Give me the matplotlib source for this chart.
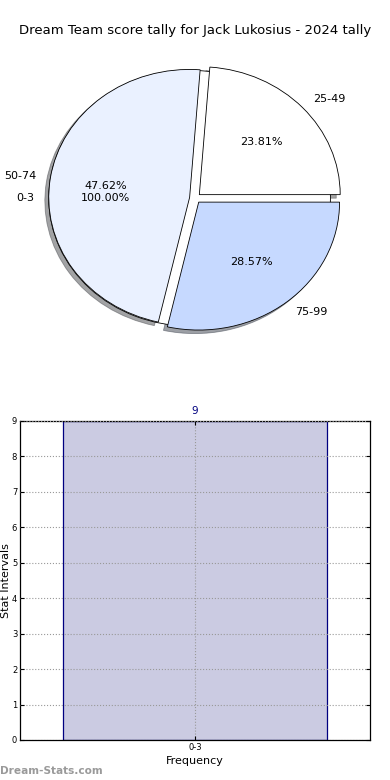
import matplotlib
matplotlib.use("Agg")
import matplotlib.pyplot as plt

# ── data ──────────────────────────────────────────────────────────────────────
title = "Dream Team score tally for Jack Lukosius - 2024 tally"
pie_labels = ["25-49", "50-74", "75-99"]
pie_counts = [5, 10, 6]
pie_colors = ["#ffffff", "#eaf1ff", "#c6d9ff"]
bg_labels = ["0-3"]
bg_counts = [9]

bar_labels = ["0-3"]
bar_values = [9]

fig = plt.figure(figsize=(3.9, 7.8), dpi=100)

# ── pie ───────────────────────────────────────────────────────────────────────
ax1 = fig.add_axes([0.049, 0.541, 0.903, 0.410])
txt = dict(fontsize=8)
ax1.pie(bg_counts, labels=bg_labels, colors=["white"], explode=[0.04],
        autopct="%1.2f%%", shadow=False, textprops=txt,
        wedgeprops=dict(edgecolor="black", linewidth=0.6))
ax1.pie(pie_counts, labels=pie_labels, colors=pie_colors,
        explode=[0.04] * len(pie_counts), autopct="%1.2f%%",
        shadow=True, textprops=txt,
        wedgeprops=dict(edgecolor="black", linewidth=0.6))
ax1.set_aspect("auto")
ax1.set_xlim(-1.25, 1.25)
ax1.set_ylim(-1.25, 1.25)
fig.text(0.5, 0.961, title, ha="center", va="center", fontsize=9.5)

# ── bar ───────────────────────────────────────────────────────────────────────
ax2 = fig.add_axes([0.0513, 0.0513, 0.897, 0.409])
x = list(range(len(bar_labels)))
ax2.bar(x, bar_values, width=0.8, color="#cbcbe2", edgecolor="navy",
        linewidth=0.9, zorder=1)
for xi, v in zip(x, bar_values):
    ax2.text(xi, v + 0.15, str(v), ha="center", va="bottom", color="navy", fontsize=7.5)
ax2.set_xlim(-0.53, 0.53)
ax2.set_ylim(0, 9)
ax2.set_yticks(range(0, 10))
ax2.set_xticks(x)
ax2.set_xticklabels(bar_labels)
ax2.tick_params(labelsize=6, direction="in", top=True, right=True, length=3, pad=2)
ax2.grid(True, linestyle=":", color="#999999", linewidth=0.8, zorder=2)
ax2.set_axisbelow(False)
ax2.set_xlabel("Frequency", fontsize=8, labelpad=3)
ax2.set_ylabel("Stat Intervals", fontsize=8)
ax2.yaxis.set_label_coords(-0.026, 0.5)
for sp in ax2.spines.values():
    sp.set_linewidth(0.9)

fig.text(0.0, 0.005, "Dream-Stats.com", fontsize=7.6, color="#9a9a9a",
         fontweight="bold", ha="left", va="bottom")

fig.savefig("out.png", dpi=100)
